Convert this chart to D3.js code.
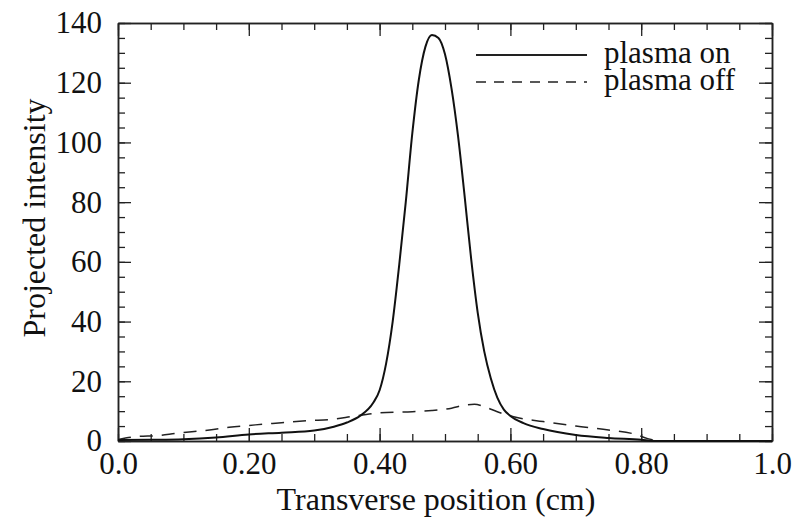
<!DOCTYPE html>
<html>
<head>
<meta charset="utf-8">
<script src="https://cdn.jsdelivr.net/npm/d3@7"></script>
<style>
  body { margin:0; background:#fff; }
  text { font-family:"Liberation Serif","Times New Roman",serif; fill:#111; }
  .tick text { font-size:31px; }
  .title { font-size:32px; }
  .legend text { font-size:31px; }
  .domain { stroke:#222; stroke-width:1.5; }
  .tick line { stroke:#222; stroke-width:1.3; }
</style>
</head>
<body>
<svg id="chart"></svg>
<script>
// plasma on (solid)
var onX = [0.00,0.05,0.10,0.15,0.20,0.25,0.30,0.33,0.35,0.37,0.39,0.40,0.41,0.42,0.43,0.44,0.45,0.46,0.47,0.48,0.49,0.50,0.51,0.52,0.53,0.54,0.55,0.56,0.57,0.58,0.59,0.60,0.62,0.65,0.70,0.75,0.80,0.82,1.00];
var onY = [0.3,0.4,0.6,1.2,2.2,2.8,3.5,4.8,6.2,8.4,12.7,17,26,40,59,80,103,121,132,136,135,129.5,118,102,82,61,43,30,21,14.5,10.5,8.4,6,4,2,1,0.4,0,0];
// plasma off (dashed)
var offX = [0.00,0.03,0.06,0.09,0.14,0.17,0.21,0.25,0.29,0.33,0.36,0.40,0.45,0.48,0.51,0.53,0.545,0.56,0.58,0.605,0.65,0.70,0.75,0.79,0.81,0.83,1.00];
var offY = [0.5,1.5,1.8,2.6,3.7,4.6,5.4,6.1,6.8,7.3,8.3,9.4,9.8,10.2,11,12,12.3,11.5,9.8,8.1,6.5,5,3.7,2.3,0.8,0,0];

var xTicks = [0,0.2,0.4,0.6,0.8,1.0];
var xTickLabels = ["0.0","0.20","0.40","0.60","0.80","1.0"];
var yTicks = [0,20,40,60,80,100,120,140];
var seriesNames = ["plasma on","plasma off"];

var initGraph=function()
    {
        var screen={width:811,height:519}
        var margins={left:118,right:39,top:23,bottom:78}
        var graph=
            {
                width:screen.width-margins.left-margins.right,
                height:screen.height-margins.top-margins.bottom
            }
        var svg=d3.select("#chart")
            .attr("width",screen.width)
            .attr("height",screen.height)
        svg.append("rect")
            .attr("width",screen.width)
            .attr("height",screen.height)
            .attr("fill","#fff")

        var target=svg.append("g")
            .attr("transform","translate("+margins.left+","+margins.top+")")

        var xScale=d3.scaleLinear()
            .domain([0,1])
            .range([0,graph.width])
        var yScale=d3.scaleLinear()
            .domain([0,140])
            .range([graph.height,0])

        drawAxes(target,graph,xScale,yScale);
        drawLines(target,xScale,yScale);
        drawLegend(target,graph);
        drawLabels(svg,graph,margins);
    }

var drawAxes=function(target,graph,xScale,yScale)
    {
        var xMinor=d3.range(0,1.0001,0.05)
        var yMinor=d3.range(0,140.01,5)
        var major=13, minor=7

        // minor ticks on all four sides
        target.append("g").attr("transform","translate(0,"+graph.height+")")
            .call(d3.axisBottom(xScale).tickValues(xMinor).tickSizeInner(-minor).tickSizeOuter(0).tickFormat(""))
        target.append("g")
            .call(d3.axisTop(xScale).tickValues(xMinor).tickSizeInner(-minor).tickSizeOuter(0).tickFormat(""))
        target.append("g")
            .call(d3.axisLeft(yScale).tickValues(yMinor).tickSizeInner(-minor).tickSizeOuter(0).tickFormat(""))
        target.append("g").attr("transform","translate("+graph.width+",0)")
            .call(d3.axisRight(yScale).tickValues(yMinor).tickSizeInner(-minor).tickSizeOuter(0).tickFormat(""))

        // major ticks
        target.append("g").attr("transform","translate(0,"+graph.height+")")
            .call(d3.axisBottom(xScale).tickValues(xTicks).tickSizeInner(-major).tickSizeOuter(0).tickPadding(11)
                .tickFormat(function(d,i){ return xTickLabels[i]; }))
        target.append("g")
            .call(d3.axisTop(xScale).tickValues(xTicks).tickSizeInner(-major).tickSizeOuter(0).tickFormat(""))
        target.append("g")
            .call(d3.axisLeft(yScale).tickValues(yTicks).tickSizeInner(-major).tickSizeOuter(0).tickPadding(16))
        target.append("g").attr("transform","translate("+graph.width+",0)")
            .call(d3.axisRight(yScale).tickValues(yTicks).tickSizeInner(-major).tickSizeOuter(0).tickFormat(""))

        target.selectAll(".tick text").attr("fill","#111")
    }

var drawLines=function(target,xScale,yScale)
    {
        var line=d3.line()
            .x(function(d){ return xScale(d[0]); })
            .y(function(d){ return yScale(d[1]); })
            .curve(d3.curveMonotoneX)

        target.append("path")
            .datum(d3.zip(offX,offY))
            .attr("d",line)
            .attr("fill","none")
            .attr("stroke","#222")
            .attr("stroke-width",1.5)
            .attr("stroke-dasharray","13,9")

        target.append("path")
            .datum(d3.zip(onX,onY))
            .attr("d",line)
            .attr("fill","none")
            .attr("stroke","#111")
            .attr("stroke-width",2)
    }

var drawLegend=function(target,graph)
    {
        var legend=target.append("g")
            .classed("legend",true)
            .attr("transform","translate("+(graph.width-296)+",32)")
        var rows=legend.selectAll("g")
            .data(seriesNames)
            .enter()
            .append("g")
            .attr("transform",function(d,i){ return "translate(0,"+(i*27)+")"; })
        rows.append("line")
            .attr("x1",0).attr("x2",111)
            .attr("y1",0).attr("y2",0)
            .attr("stroke","#222")
            .attr("stroke-width",function(d,i){ return i==0?2:1.5; })
            .attr("stroke-dasharray",function(d,i){ return i==0?null:"10,8"; })
        rows.append("text")
            .text(function(d){ return d; })
            .attr("x",128)
            .attr("y",8)
    }

var drawLabels=function(svg,graph,margins)
    {
        var labels=svg.append("g")
        labels.append("text")
            .classed("title",true)
            .text("Transverse position (cm)")
            .attr("text-anchor","middle")
            .attr("x",margins.left+graph.width/2-9)
            .attr("y",510)
        labels.append("g")
            .attr("transform","translate(45,"+(margins.top+graph.height/2-14)+")")
            .append("text")
            .classed("title",true)
            .text("Projected intensity")
            .attr("text-anchor","middle")
            .attr("transform","rotate(-90)")
    }

initGraph();
</script>
</body>
</html>
